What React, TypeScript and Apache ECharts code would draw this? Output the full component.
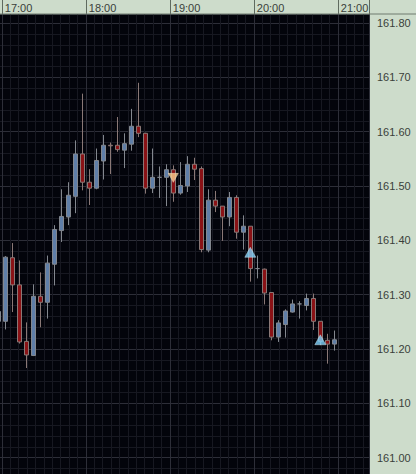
import React, { useEffect, useRef } from "react";
import * as echarts from "echarts";

const barTimes = [
  "16:55","17:00","17:05","17:10","17:15","17:20","17:25","17:30","17:35","17:40","17:45","17:50","17:55",
  "18:00","18:05","18:10","18:15","18:20","18:25","18:30","18:35","18:40","18:45","18:50","18:55",
  "19:00","19:05","19:10","19:15","19:20","19:25","19:30","19:35","19:40","19:45","19:50","19:55",
  "20:00","20:05","20:10","20:15","20:20","20:25","20:30","20:35","20:40","20:45","20:50","20:55",
  "21:00","21:05","21:10","21:15","21:20",
];

const opens = [
  161.251,161.251,161.368,161.318,161.214,161.188,161.297,161.286,161.356,161.418,161.443,161.481,161.559,
  161.507,161.496,161.546,161.575,161.575,161.566,161.577,161.610,161.597,161.496,161.516,161.516,
  161.530,161.487,161.500,161.540,161.532,161.382,161.474,161.463,161.443,161.479,161.415,161.426,
  161.348,161.347,161.304,161.222,161.245,161.268,161.283,161.280,161.293,161.251,161.216,161.209,
];
const closes = [
  161.269,161.369,161.318,161.213,161.189,161.297,161.286,161.358,161.420,161.444,161.483,161.559,161.507,
  161.496,161.547,161.575,161.574,161.567,161.578,161.610,161.597,161.496,161.516,161.516,161.530,
  161.487,161.501,161.540,161.531,161.383,161.474,161.463,161.443,161.479,161.415,161.426,161.348,
  161.348,161.303,161.222,161.248,161.270,161.283,161.283,161.293,161.251,161.214,161.209,161.217,
];
const lows = [
  161.247,161.236,161.268,161.210,161.165,161.187,161.240,161.256,161.317,161.397,161.428,161.450,161.492,
  161.465,161.494,161.512,161.522,161.563,161.533,161.565,161.590,161.486,161.487,161.478,161.463,
  161.471,161.484,161.489,161.511,161.378,161.378,161.452,161.399,161.426,161.403,161.383,161.324,
  161.330,161.282,161.216,161.213,161.221,161.267,161.256,161.271,161.235,161.207,161.173,161.197,
];
const highs = [
  161.280,161.371,161.395,161.363,161.249,161.319,161.341,161.372,161.428,161.494,161.507,161.584,161.670,
  161.531,161.569,161.594,161.580,161.627,161.597,161.642,161.690,161.598,161.569,161.536,161.540,
  161.538,161.544,161.555,161.552,161.536,161.494,161.491,161.463,161.489,161.483,161.446,161.426,
  161.372,161.348,161.305,161.253,161.273,161.291,161.288,161.302,161.302,161.251,161.228,161.234,
];

const sellMarkers: [string, number][] = [["19:00", 161.515]];
const buyMarkers: [string, number][] = [["19:55", 161.378], ["20:45", 161.217]];

const hourTicks: Record<number, string> = { 0: "17:00", 60: "18:00", 120: "19:00", 180: "20:00", 240: "21:00" };
const priceLabels = ["161.00","161.10","161.20","161.30","161.40","161.50","161.60","161.70","161.80"];

const PRICE_MIN = 160.9;
const PRICE_MAX = 161.8166;
const FONT = "'Liberation Sans', Arial, sans-serif";

export default function App() {
  const ref = useRef<HTMLDivElement>(null);
  useEffect(() => {
    document.body.style.margin = "0";
    const chart = echarts.init(ref.current!, null, { renderer: "svg" });
    const candles = opens.map((o, i) => [o, closes[i], lows[i], highs[i]]);
    const panel = "#cddccb";
    const gridTop = 14;
    const gridBottom = -38;
    chart.setOption({
      animation: false,
      backgroundColor: panel,
      graphic: [
        { type: "line", z: 50, shape: { x1: 0, y1: 14, x2: 416, y2: 14 }, style: { stroke: "#6f7a6f", lineWidth: 1 } },
      ],
      grid: [
        { left: -5.2, width: 378, top: gridTop, bottom: gridBottom, show: false, outerBoundsMode: "none" },
        { left: -82.2, right: 47, top: gridTop, bottom: gridBottom, show: true, backgroundColor: "#03040b", borderWidth: 0, z: 0, outerBoundsMode: "none" },
      ],
      xAxis: [
        { type: "category", gridIndex: 0, data: barTimes, boundaryGap: true, show: false },
        {
          type: "value", gridIndex: 1, position: "top", min: -60, max: 262.29, interval: 60,
          axisLine: { show: false },
          axisTick: { show: true, length: 14, lineStyle: { color: "#5f6a5f", width: 1 } },
          axisLabel: {
            show: true, margin: 1, align: "left", padding: [0, 0, 0, 3],
            fontSize: 11, fontFamily: FONT, color: "#3a3f3a",
            formatter: (v: number) => hourTicks[Math.round(v)] ?? "",
          },
          splitLine: { show: true, lineStyle: { color: "#2d2e38", width: 1 } },
          minorTick: { show: false, splitNumber: 10 },
          minorSplitLine: { show: true, lineStyle: { color: "#171821", width: 1 } },
        },
      ],
      yAxis: [
        { type: "value", gridIndex: 0, min: PRICE_MIN, max: PRICE_MAX, show: false },
        {
          type: "value", gridIndex: 1, position: "right", min: PRICE_MIN, max: PRICE_MAX, interval: 0.1,
          axisLine: { show: false },
          axisTick: { show: false },
          axisLabel: {
            show: true, margin: 8, fontSize: 11, fontFamily: FONT, color: "#3a3f3a",
            formatter: (v: number) => (priceLabels.includes(v.toFixed(2)) && Math.abs(v - PRICE_MAX) > 0.001 ? v.toFixed(2) : ""),
          },
          splitLine: { show: true, lineStyle: { color: "#2d2e38", width: 1 } },
          minorTick: { show: false, splitNumber: 5 },
          minorSplitLine: { show: true, lineStyle: { color: "#171821", width: 1 } },
        },
      ],
      series: [
        {
          type: "candlestick", xAxisIndex: 0, yAxisIndex: 0, z: 5,
          barWidth: 4,
          data: candles,
          itemStyle: {
            color: "#5f7ea8", color0: "#8a1216",
            borderColor: "#83878e", borderColor0: "#8a7876", borderWidth: 1,
          },
        },
        {
          type: "scatter", xAxisIndex: 0, yAxisIndex: 0, z: 6,
          symbol: "triangle", symbolRotate: 180, symbolSize: [10, 9],
          data: sellMarkers,
          itemStyle: { color: "#fbd08e", borderColor: "#fff3dc", borderWidth: 0.5 },
        },
        {
          type: "scatter", xAxisIndex: 0, yAxisIndex: 0, z: 6,
          symbol: "triangle", symbolSize: [11, 10],
          data: buyMarkers,
          itemStyle: { color: "#7ed2fb", borderColor: "#dcf4ff", borderWidth: 0.5 },
        },
      ],
    });
    return () => chart.dispose();
  }, []);
  return <div ref={ref} style={{ width: 416, height: 474 }} />;
}
